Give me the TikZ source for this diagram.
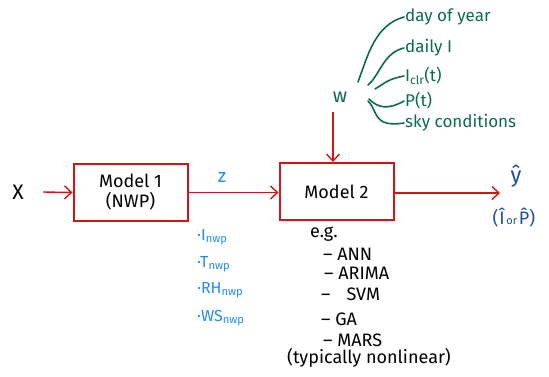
\documentclass[tikz,border=0pt]{standalone}
\usepackage{fontspec}
\setmainfont{Fira Sans}
\usetikzlibrary{arrows.meta}
\definecolor{modred}{HTML}{D41515}
\definecolor{wgreen}{HTML}{0E6B4A}
\definecolor{nwpblue}{HTML}{1E8CF0}
\definecolor{outblue}{HTML}{1F4E9A}
\tikzset{
  model/.style={draw=modred, line width=2pt, minimum width=114pt, minimum height=57pt, inner sep=0pt, align=center, font=\fontsize{18}{20}\selectfont},
  flow/.style={draw=modred, line width=1.4pt, -{Straight Barb[length=7pt,width=13pt]}},
  branch/.style={draw=wgreen, line width=1.6pt, line cap=round},
  wtext/.style={text=wgreen, anchor=west, inner sep=1pt, font=\fontsize{17}{19}\selectfont},
  nwptext/.style={text=nwpblue, anchor=west, inner sep=1pt, font=\fontsize{16}{18}\selectfont},
  mltext/.style={anchor=west, inner sep=1pt, font=\fontsize{18}{20}\selectfont},
}
\begin{document}
\begin{tikzpicture}[x=1pt, y=-1pt]
\useasboundingbox (0,0) rectangle (549,377);

% input and the two models
\node[font=\fontsize{21}{23}\selectfont] (x) at (18,192) {X};
\node[model] (m1) at (130.5,192.5) {Model 1\\(NWP)};
\node[model] (m2) at (336.5,191.5) {Model 2};
\coordinate (xs) at (43,192);
\coordinate (yin) at (500,193);

\draw[flow] (xs) -- (m1.west);
\draw[flow] (m1.east) -- (m1.east -| m2.west);
\draw[flow] (m2.east |- yin) -- (yin);

% intermediate NWP output
\node[text=nwpblue, font=\fontsize{19}{21}\selectfont] (z) at (222,177) {z};
\node[nwptext] (i1) at (196,237) {·I\textsubscript{nwp}};
\node[nwptext] (i2) at (196,264) {·T\textsubscript{nwp}};
\node[nwptext] (i3) at (196,290) {·RH\textsubscript{nwp}};
\node[nwptext] (i4) at (196,318) {·WS\textsubscript{nwp}};

% prediction
\node[text=outblue, font=\fontsize{22}{24}\selectfont] (yhat) at (516,176) {ŷ};
\node[text=outblue, font=\fontsize{18}{20}\selectfont, inner sep=0pt] (yalt) at (514,218) {(Î{\fontsize{11}{13}\selectfont\,or\,}P̂)};

% exogenous inputs w
\node[text=wgreen, font=\fontsize{20}{22}\selectfont] (w) at (340,97) {w};
\coordinate (wa) at (333,112);
\draw[flow] (wa) -- (m2.north -| wa);

\node[wtext] (d1) at (404,17) {day of year};
\node[wtext] (d2) at (404,48) {daily I};
\node[wtext] (d3) at (404,76) {I\textsubscript{clr}(t)};
\node[wtext] (d4) at (404,101) {P(t)};
\node[wtext] (d5) at (404,123) {sky conditions};

\coordinate (b1) at (358,82);
\coordinate (b2) at (368,85);
\coordinate (b3) at (375,89);
\coordinate (b4) at (369,99);
\coordinate (b5) at (368,101);
\draw[branch] (b1) .. controls (368,55) and (375,25) .. (d1.west);
\draw[branch] (b2) .. controls (380,75) and (383,53) .. (d2.west);
\draw[branch] (b3) .. controls (385,83) and (388,79) .. (d3.west);
\draw[branch] (b4) .. controls (378,108) and (388,110) .. (d4.west);
\draw[branch] (b5) .. controls (378,110) and (372,128) .. (d5.west);

% candidate learners for model 2
\node[mltext] (eg) at (309,234) {e.g.};
\node[mltext] (a1) at (322,254) {– ANN};
\node[mltext] (a2) at (323,273) {– ARIMA};
\node[mltext] (a3) at (320,294) {–\hspace{0.9em}SVM};
\node[mltext] (a4) at (320,319) {– GA};
\node[mltext] (a5) at (322,340) {– MARS};
\node[mltext] (a6) at (286,358) {(typically nonlinear)};
\end{tikzpicture}
\end{document}
